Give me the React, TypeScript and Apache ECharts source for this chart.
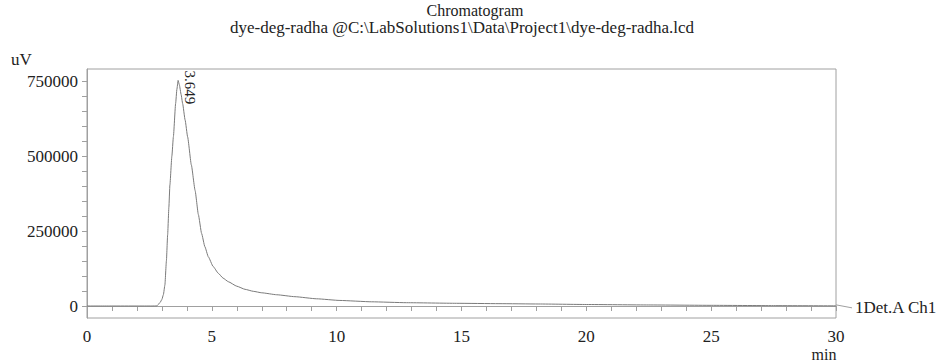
import React, { useEffect, useRef } from "react";
import * as echarts from "echarts";

const times = [0, 1, 2, 2.6, 2.8, 2.86, 2.93, 3.0, 3.06, 3.12, 3.18, 3.23, 3.28, 3.32, 3.4, 3.46, 3.55, 3.6, 3.649, 3.7, 3.77, 3.83, 3.93, 4.03, 4.18, 4.33, 4.46, 4.59, 4.72, 4.86, 5.05, 5.26, 5.45, 5.66, 6.0, 6.33, 6.66, 7.0, 7.6, 8.33, 9.2, 10.13, 11.4, 12.8, 14.8, 16.5, 18.1, 20, 22.5, 25, 27.5, 30];
const signal = [0, 0, 0, 0, 300, 5700, 12000, 22000, 38000, 70000, 150000, 237000, 330000, 403000, 500000, 564000, 675000, 722000, 752000, 737000, 705000, 675000, 620000, 564000, 470000, 385000, 305000, 242000, 198000, 164000, 132000, 109000, 93000, 81000, 66000, 55600, 49000, 44000, 37500, 31000, 24000, 18500, 14000, 11000, 9000, 7800, 6700, 5000, 3500, 2200, 1200, 500];
const yLabelValues = [0, 250000, 500000, 750000];
const yTickValues = [0, 50000, 100000, 150000, 200000, 250000, 300000, 350000, 400000, 450000, 500000, 550000, 600000, 650000, 700000, 750000];
const peakTime = 3.649;
const peakValue = 752000;
const peakLabel = "3.649";
const channelName = "1Det.A Ch1";
const titleText = "Chromatogram";
const subtitleText = "dye-deg-radha @C:\\LabSolutions1\\Data\\Project1\\dye-deg-radha.lcd";

const FONT = "'Liberation Serif', 'DejaVu Serif', serif";
const TXT = "#222";
const GRAY = "#a0a0a0";

export default function App() {
  const ref = useRef<HTMLDivElement>(null);
  useEffect(() => {
    if (!ref.current) return;
    const chart = echarts.init(ref.current, undefined, { renderer: "svg" });
    chart.setOption({
      animation: false,
      grid: { left: 87, right: 100, top: 69, bottom: 45, show: true, borderColor: GRAY, borderWidth: 1 },
      xAxis: {
        type: "value",
        min: 0,
        max: 30,
        interval: 5,
        axisLine: { show: true, lineStyle: { color: GRAY } },
        axisTick: { show: true, length: 5, lineStyle: { color: GRAY } },
        minorTick: { show: true, splitNumber: 5, length: 5, lineStyle: { color: GRAY } },
        splitLine: { show: false },
        axisLabel: { color: TXT, fontFamily: FONT, fontSize: 17, margin: 10 },
      },
      yAxis: {
        type: "value",
        min: -40000,
        max: 790000,
        axisLine: { show: true, lineStyle: { color: GRAY } },
        axisTick: { show: true, length: 5, customValues: yTickValues, lineStyle: { color: GRAY } },
        splitLine: { show: false },
        axisLabel: {
          color: TXT,
          fontFamily: FONT,
          fontSize: 17,
          margin: 9,
          customValues: yLabelValues,
          formatter: (v: number) => String(v),
        },
      },
      series: [
        {
          type: "line",
          data: times.map((t, i) => [t, signal[i]]),
          showSymbol: false,
          smooth: 0.15,
          smoothMonotone: "x",
          lineStyle: { color: "#7a7a7a", width: 1 },
        },
      ],
    });
    const peak = chart.convertToPixel({ gridIndex: 0 }, [peakTime, peakValue]) as number[];
    const end = chart.convertToPixel({ gridIndex: 0 }, [times[times.length - 1], signal[signal.length - 1]]) as number[];
    chart.setOption({
      graphic: [
        { type: "text", x: 475, y: 10, style: { text: titleText, font: `16px ${FONT}`, fill: TXT, textAlign: "center", textVerticalAlign: "middle" } },
        { type: "text", x: 462, y: 27, style: { text: subtitleText, font: `17px ${FONT}`, fill: TXT, textAlign: "center", textVerticalAlign: "middle" } },
        { type: "text", x: 11, y: 59, style: { text: "uV", font: `17px ${FONT}`, fill: TXT, textAlign: "left", textVerticalAlign: "middle" } },
        { type: "text", x: 824, y: 354, style: { text: "min", font: `16px ${FONT}`, fill: TXT, textAlign: "center", textVerticalAlign: "middle" } },
        { type: "line", shape: { x1: end[0], y1: end[1] - 1, x2: end[0] + 16, y2: end[1] + 2 }, style: { stroke: GRAY, lineWidth: 1 } },
        { type: "text", x: end[0] + 19, y: end[1] + 2, style: { text: channelName, font: `17px ${FONT}`, fill: TXT, textAlign: "left", textVerticalAlign: "middle" } },
        { type: "text", x: peak[0] + 12, y: peak[1] + 7, rotation: -Math.PI / 2, style: { text: peakLabel, font: `15px ${FONT}`, fill: TXT, textAlign: "center", textVerticalAlign: "middle" } },
      ],
    });
    return () => chart.dispose();
  }, []);
  return <div ref={ref} style={{ position: "fixed", left: 0, top: 0, width: 936, height: 363, background: "#fff" }} />;
}
